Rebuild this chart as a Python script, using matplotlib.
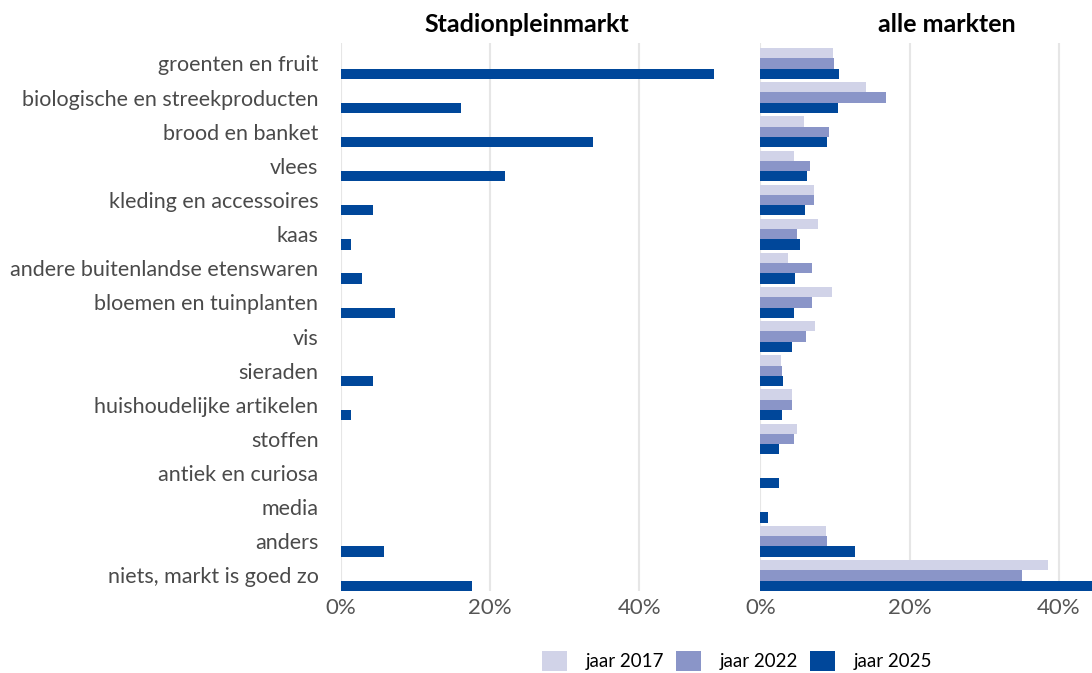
import matplotlib.pyplot as plt
import numpy as np
from matplotlib.patches import Patch

categories = [
    "groenten en fruit", "biologische en streekproducten", "brood en banket",
    "vlees", "kleding en accessoires", "kaas", "andere buitenlandse etenswaren",
    "bloemen en tuinplanten", "vis", "sieraden", "huishoudelijke artikelen",
    "stoffen", "antiek en curiosa", "media", "anders", "niets, markt is goed zo",
]
years = ["jaar 2017", "jaar 2022", "jaar 2025"]

# Stadionpleinmarkt: only 2025 measured
stadion_2025 = [50.0, 16.1, 33.8, 22.0, 4.3, 1.4, 2.9, 7.3, 0.0, 4.3, 1.4,
                0.0, 0.0, 0.0, 5.8, 17.6]

# alle markten
alle_2017 = [9.7, 14.1, 5.8, 4.5, 7.2, 7.7, 3.7, 9.6, 7.3, 2.8, 4.2,
             4.9, 0.0, 0.0, 8.8, 38.5]
alle_2022 = [9.9, 16.9, 9.2, 6.6, 7.2, 4.9, 6.9, 6.9, 6.1, 2.9, 4.2,
             4.5, 0.0, 0.0, 9.0, 35.0]
alle_2025 = [10.5, 10.4, 8.9, 6.2, 6.0, 5.3, 4.6, 4.5, 4.2, 3.0, 2.9,
             2.5, 2.5, 1.0, 12.7, 45.0]

colors = ["#D1D3E8", "#8A95C8", "#00479A"]
txt_grey = "#4A4A4A"

W, H = 1092, 673
plt.rcParams["font.family"] = ["Lato", "DejaVu Sans"]
fig = plt.figure(figsize=(W / 100, H / 100), dpi=100)

bottom = 1 - 591 / H
height = 548 / H
width = 373.3 / W
ax_l = fig.add_axes([340.7 / W, bottom, width, height])
ax_r = fig.add_axes([760.3 / W, bottom, width, height])

y = np.arange(len(categories))
bh = 0.3
offsets = [-bh, 0, bh]

ax_l.barh(y + offsets[2], stadion_2025, height=bh, color=colors[2], zorder=2)
for vals, off, col in zip([alle_2017, alle_2022, alle_2025], offsets, colors):
    ax_r.barh(y + off, vals, height=bh, color=col, zorder=2)

for ax, title in [(ax_l, "Stadionpleinmarkt"), (ax_r, "alle markten")]:
    ax.set_xlim(0, 50)
    ax.set_ylim(15.455, -0.6)
    ax.set_xticks([0, 20, 40])
    ax.set_xticklabels(["0%", "20%", "40%"])
    ax.grid(axis="x", color="#E6E6E6", linewidth=1.5, zorder=0)
    for s in ax.spines.values():
        s.set_visible(False)
    ax.tick_params(length=0, labelsize=16, labelcolor="#555555", pad=5)
    ax.set_title(title, fontsize=18, fontweight="bold", color="black", pad=8)

ax_l.set_yticks(y)
ax_l.set_yticklabels(categories)
ax_l.tick_params(axis="y", labelsize=15.5, labelcolor=txt_grey, pad=16)
ax_r.set_yticks([])

handles = [Patch(facecolor=c, label=l) for c, l in zip(colors, years)]
fig.legend(handles=handles, loc="center", bbox_to_anchor=(737 / W, 1 - 661 / H),
           ncol=3, frameon=False, fontsize=13.5, handlelength=1.33,
           handleheight=1.33, columnspacing=0.65, handletextpad=1.0)

fig.savefig("out.png", dpi=100)
